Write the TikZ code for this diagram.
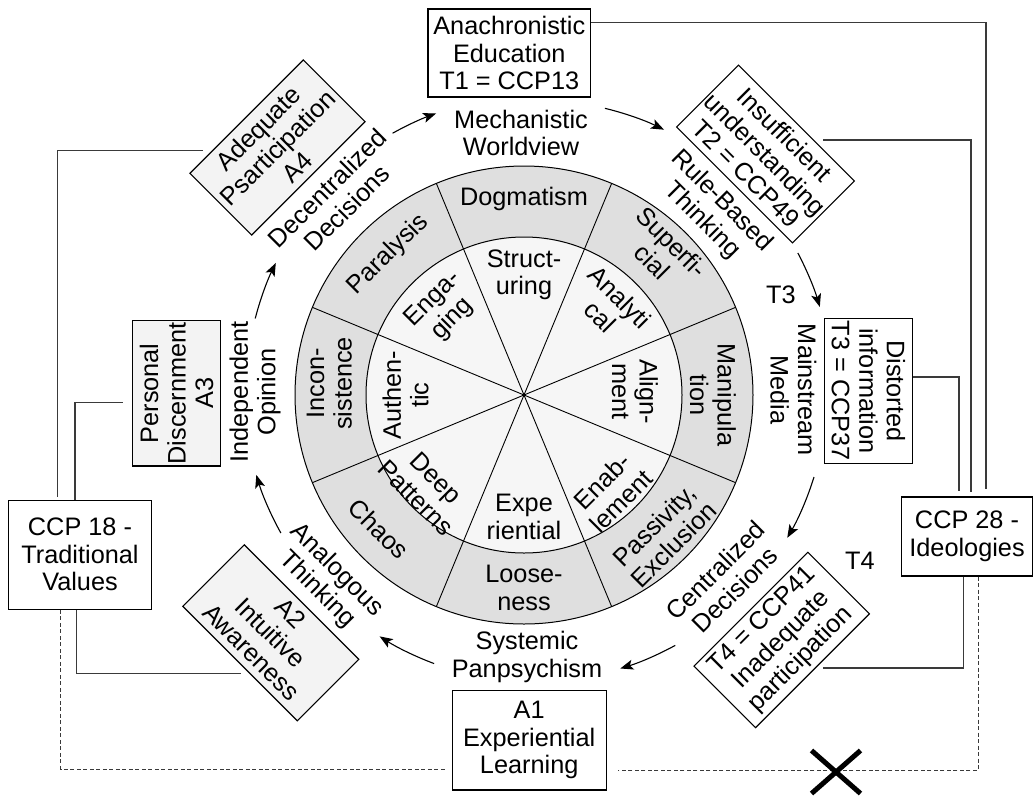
\documentclass[tikz,border=0pt]{standalone}
\usepackage{fontspec}
\setmainfont{Liberation Sans}
\usetikzlibrary{calc,arrows.meta,shapes.misc}
\definecolor{ringgray}{HTML}{DFDFDF}
\definecolor{innergray}{HTML}{F6F6F6}
\definecolor{boxgray}{HTML}{F3F3F3}
\definecolor{linegray}{HTML}{3A3A3A}
\begin{document}
\begin{tikzpicture}[x=1pt,y=1pt,
  every node/.style={font=\fontsize{25.3}{27.5}\selectfont, align=center, inner sep=0pt},
  box/.style={draw, line width=1.1pt, fill=white},
  gbox/.style={draw, line width=1.1pt, fill=boxgray},
  conn/.style={draw=linegray, line width=1.2pt},
  dconn/.style={draw=linegray, line width=1pt, dash pattern=on 4pt off 2.5pt},
  arr/.style={line width=1.1pt, -{Stealth[length=13pt,width=10pt,inset=3pt]}},
]
\useasboundingbox (0,0) rectangle (1034,-796);

% ---------- wheel ----------
\coordinate (W) at (524,-395);
\fill[ringgray] (W) circle[radius=229];
\fill[innergray] (W) circle[radius=158];
\draw[line width=1pt] (W) circle[radius=229];
\draw[line width=1pt] (W) circle[radius=158];
\foreach \a in {22.5,67.5,...,337.5} \draw[line width=0.9pt] (W) -- ++(\a:229);

% outer ring labels
\node (o0) at ($(W)+(90:196)$) {Dogmatism};
\node[rotate=-45] (o1) at ($(W)+(46:199)$) {Superfi-\\cial};
\node[rotate=-90] (o2) at ($(W)+(0:189)$) {Manipula\\tion};
\node[rotate=45] (o3) at ($(W)+(-45:198)$) {Passivity,\\Exclusion};
\node (o4) at ($(W)+(-90:193)$) {Loose-\\ness};
\node[rotate=-45] (o5) at ($(W)+(-137.4:197.5)$) {Chaos};
\node[rotate=90] (o6) at ($(W)+(176.6:195)$) {Incon-\\sistence};
\node[rotate=45] (o7) at ($(W)+(134:195)$) {Paralysis};

% inner labels
\node (i0) at ($(W)+(90:120)$) {Struct-\\uring};
\node[rotate=-45] (i1) at ($(W)+(45.6:123)$) {Analyti\\cal};
\node[rotate=-90] (i2) at ($(W)+(1.7:111)$) {Align-\\ment};
\node[rotate=45] (i3) at ($(W)+(-47.7:130)$) {Enab-\\lement};
\node (i4) at ($(W)+(-90:122)$) {Expe\\riential};
\node[rotate=-45] (i5) at ($(W)+(-136.5:135)$) {Deep\\Patterns};
\node[rotate=90] (i6) at ($(W)+(180:118.5)$) {Authen-\\tic};
\node[rotate=45] (i7) at ($(W)+(133.4:118)$) {Enga-\\ging};

% ---------- ring labels ----------
\node (l0) at (521,-133) {Mechanistic\\Worldview};
\node[rotate=-45] (l1) at (712,-211) {Rule-Based\\Thinking};
\node[rotate=-90] (l2) at (793.5,-390) {Mainstream\\Media};
\node[rotate=45] (l3) at (725,-580) {Centralized\\Decisions};
\node (l4) at (527,-657) {Systemic\\Panpsychism};
\node[rotate=-45] (l5) at (327,-580) {Analogous\\Thinking};
\node[rotate=90] (l6) at (255,-392) {Independent\\Opinion};
\node[rotate=45] (l7) at (337,-198) {Decentralized\\Decisions};
\node (t3l) at (781,-295) {T3};
\node (t4l) at (860,-561) {T4};

% ---------- cycle arrows ----------
\coordinate (AC) at (536,-391);
\draw[arr] ($(AC)+(119.1:295)$) arc[start angle=119.1, end angle=109.8, radius=295];
\draw[arr] ($(AC)+(76.3:291)$) arc[start angle=76.3, end angle=63.9, radius=291];
\draw[arr] ($(AC)+(27.8:296)$) arc[start angle=27.8, end angle=16.5, radius=296];
\draw[arr] ($(AC)+(-17.2:291)$) arc[start angle=-17.2, end angle=-30.3, radius=291];
\draw[arr] ($(AC)+(-61.3:290)$) arc[start angle=-61.3, end angle=-73.1, radius=290];
\draw[arr] ($(AC)+(-110.5:291)$) arc[start angle=-110.5, end angle=-122.5, radius=291];
\draw[arr] ($(AC)+(-150.9:292)$) arc[start angle=-150.9, end angle=-163.3, radius=292];
\draw[arr] ($(AC)+(165.5:290)$) arc[start angle=165.5, end angle=153.8, radius=290];

% ---------- boxes ----------
\node[box, minimum width=162.7, minimum height=88] (t1) at (509.3,-53) {Anachronistic\\Education\\T1 = CCP13};
\node[box, rotate=-45, minimum width=163.8, minimum height=87.5] (t2) at (765.5,-154) {Insufficient\\understanding\\T2 = CCP49};
\node[box, rotate=-90, minimum width=145, minimum height=88.7] (t3) at (868.4,-390.8) {Distorted\\information\\T3 = CCP37};
\node[box, rotate=45, minimum width=161, minimum height=87] (t4) at (781.7,-640) {T4 = CCP41\\Inadequate\\participation};
\node[box, minimum width=153.7, minimum height=99.3] (a1) at (529.2,-740.3) {A1\\Experiential\\Learning};
\node[gbox, rotate=-45, minimum width=162, minimum height=87] (a2) at (270.8,-632.8) {A2\\Intuitive\\Awareness};
\node[gbox, rotate=90, minimum width=145.3, minimum height=88] (a3) at (176.7,-393.3) {Personal\\Discernment\\A3};
\node[gbox, rotate=45, minimum width=160.3, minimum height=87.3] (a4) at (277.5,-147.5) {Adequate\\Psarticipation\\A4};
\node[box, minimum width=143.4, minimum height=109.3] (c18) at (80,-554.7) {CCP 18 -\\Traditional\\Values};
\node[box, minimum width=131, minimum height=79] (c28) at (967,-536.5) {CCP 28 -\\Ideologies};

% ---------- connectors ----------
\draw[conn] ([yshift=-14pt]t1.north east) -| ([xshift=19pt,yshift=7pt]c28.north);
\draw[conn] ($(t2.center)+(57.5,14)$) -| ([xshift=4pt,yshift=4pt]c28.north);
\draw[conn] ($(t3.center)+(44.3,13.8)$) -| ([xshift=-8pt,yshift=5pt]c28.north);
\draw[conn] ([xshift=-3.4pt]c28.south) |- ($(t4.center)+(41,-28)$);
\draw[dconn] ([xshift=11.5pt]c28.south) |- ([xshift=11pt,yshift=-29.7pt]a1.east);

\draw[conn] ([xshift=-22.3pt,yshift=3pt]c18.north) |- ($(a4.center)+(-74.5,-3.2)$);
\draw[conn] ([xshift=-5pt]c18.north) |- ($(a3.center)+(-54,-9.4)$);
\draw[dconn] ([xshift=-19.3pt]c18.south) |- ([xshift=-5.6pt,yshift=-29pt]a1.west);
\draw[conn] ([xshift=-3.3pt]c18.south) |- ($(a2.center)+(-30.1,-40.5)$);

% cross mark on the dashed link
\node[cross out, draw, line width=5pt, minimum width=44, minimum height=38] (xmark) at (836,-772) {};
\end{tikzpicture}
\end{document}
